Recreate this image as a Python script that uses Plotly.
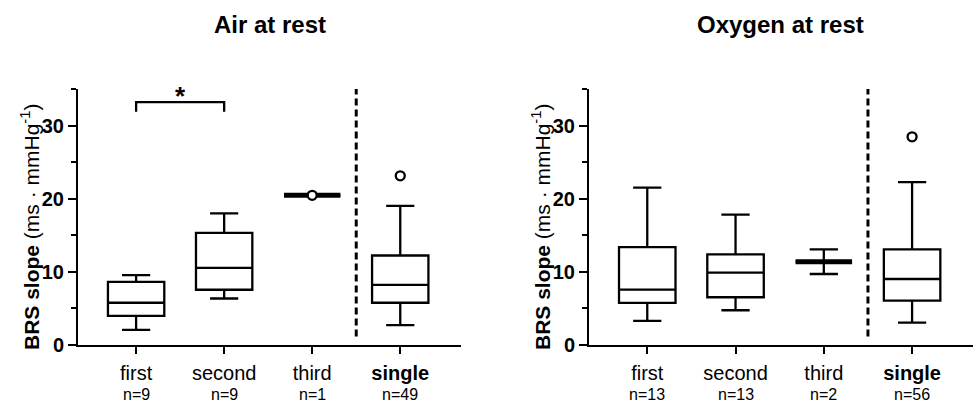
import plotly.graph_objects as go

# ---------------- data ----------------
categories = ["first", "second", "third", "single"]
cat_pos = [1, 2, 3, 4]

air_n = [9, 9, 1, 49]
air_lowerfence = [2.0, 6.3, 20.44, 2.65]
air_q1 = [3.93, 7.5, 20.44, 5.72]
air_median = [5.72, 10.5, 20.44, 8.16]
air_q3 = [8.57, 15.3, 20.44, 12.19]
air_upperfence = [9.49, 17.96, 20.44, 19.0]
air_points_x = ["third", "single"]
air_points_y = [20.44, 23.1]

oxy_n = [13, 13, 2, 56]
oxy_lowerfence = [3.23, 4.69, 9.66, 3.0]
oxy_q1 = [5.69, 6.47, 11.35, 6.02]
oxy_median = [7.52, 9.85, 11.35, 8.97]
oxy_q3 = [13.35, 12.35, 11.35, 13.04]
oxy_upperfence = [21.5, 17.8, 13.04, 22.24]
oxy_points_x = ["single"]
oxy_points_y = [28.45]

sig_pair = ["first", "second"]
sig_level = 33.2
sig_drop = 1.3
sig_label = "*"

titles = ["Air at rest", "Oxygen at rest"]
y_title = "<b>BRS slope</b> (ms · mmHg<sup>-1</sup>)"

# ---------------- styling ----------------
FONT = "Liberation Sans, Arial, sans-serif"
BOX_W = 0.64
LW = 2.3
pos = dict(zip(categories, cat_pos))

fig = go.Figure()

panels = [
    dict(xa="x", ya="y", lf=air_lowerfence, q1=air_q1, med=air_median, q3=air_q3,
         uf=air_upperfence, px=air_points_x, py=air_points_y, n=air_n),
    dict(xa="x2", ya="y2", lf=oxy_lowerfence, q1=oxy_q1, med=oxy_median, q3=oxy_q3,
         uf=oxy_upperfence, px=oxy_points_x, py=oxy_points_y, n=oxy_n),
]

for p in panels:
    for i, c in enumerate(categories):
        collapsed = p["q1"][i] == p["q3"][i]
        fig.add_trace(go.Box(
            x=[cat_pos[i]], q1=[p["q1"][i]], median=[p["med"][i]], q3=[p["q3"][i]],
            lowerfence=[p["lf"][i]], upperfence=[p["uf"][i]],
            width=BOX_W, whiskerwidth=0.5, boxpoints=False,
            fillcolor="white", line=dict(color="black", width=LW),
            xaxis=p["xa"], yaxis=p["ya"], showlegend=False, hoverinfo="skip"))
        if collapsed:
            # thick line for collapsed box (Prism style)
            fig.add_trace(go.Box(
                x=[cat_pos[i]], q1=[p["med"][i]], median=[p["med"][i]], q3=[p["med"][i]],
                lowerfence=[p["med"][i]], upperfence=[p["med"][i]],
                width=BOX_W, whiskerwidth=0, boxpoints=False,
                fillcolor="white", line=dict(color="black", width=5),
                xaxis=p["xa"], yaxis=p["ya"], showlegend=False, hoverinfo="skip"))
    fig.add_trace(go.Scatter(
        x=[pos[c] for c in p["px"]], y=p["py"], mode="markers",
        marker=dict(symbol="circle", size=9, color="white",
                    line=dict(color="black", width=2.3)),
        xaxis=p["xa"], yaxis=p["ya"], showlegend=False, hoverinfo="skip"))

# ---------------- axes ----------------
y_dom = [1 - 344.5 / 404, 1 - 89 / 404]
x_doms = [[78 / 973, 461 / 973], [589 / 973, 1.0]]

def yaxis_cfg(anchor):
    return dict(domain=y_dom, anchor=anchor, range=[0, 35], showgrid=False, zeroline=False,
                automargin=False,
                showline=True, linecolor="black", linewidth=2,
                ticks="outside", tickvals=[0, 10, 20, 30], ticklen=8, tickwidth=2,
                tickcolor="black",
                tickfont=dict(family=FONT, size=20, color="black", weight="bold"),
                minor=dict(tickvals=[5, 15, 25, 35], ticks="outside", ticklen=5,
                           tickwidth=2, tickcolor="black"))

def xaxis_cfg(dom, anchor):
    return dict(domain=dom, anchor=anchor, range=[0.34, 4.69], showgrid=False,
                zeroline=False, showline=True, linecolor="black", linewidth=2,
                automargin=False,
                ticks="outside", ticklen=7, tickwidth=2, tickcolor="black",
                tickvals=cat_pos, ticklabelstandoff=2,
                ticktext=[c if c != "single" else "<b>single</b>" for c in categories],
                tickfont=dict(family=FONT, size=20, color="black"))

fig.update_layout(
    width=973, height=404, margin=dict(l=0, r=0, t=0, b=0, autoexpand=False),
    paper_bgcolor="white", plot_bgcolor="white",
    xaxis=xaxis_cfg(x_doms[0], "y"), yaxis=yaxis_cfg("x"),
    xaxis2=xaxis_cfg(x_doms[1], "y2"), yaxis2=yaxis_cfg("x2"),
    font=dict(family=FONT, color="black"),
    boxmode="overlay",
)

annotations = []
shapes = []
for k, (dom, p) in enumerate(zip(x_doms, panels)):
    xa = "x" if k == 0 else "x2"
    ya = "y" if k == 0 else "y2"
    annotations.append(dict(text="<b>%s</b>" % titles[k], xref="paper", yref="paper",
                            x=(dom[0] + dom[1]) / 2, y=1 - 24 / 404, showarrow=False,
                            xanchor="center", yanchor="middle",
                            font=dict(family=FONT, size=24, color="black")))
    annotations.append(dict(text=y_title, xref="paper", yref="paper", textangle=-90,
                            x=dom[0] - 48 / 973, y=1 - 227 / 404, showarrow=False,
                            xanchor="center", yanchor="middle",
                            font=dict(family=FONT, size=21, color="black")))
    for i, c in enumerate(categories):
        annotations.append(dict(text="n=%d" % p["n"][i], xref=xa, yref="paper",
                                x=cat_pos[i], y=1 - 394 / 404, showarrow=False,
                                xanchor="center", yanchor="middle",
                                font=dict(family=FONT, size=16, color="black")))
    shapes.append(dict(type="line", xref=xa, yref=ya, x0=3.5, x1=3.5, y0=1.1, y1=35,
                       line=dict(color="black", width=3, dash="7px,4px")))

# significance bracket
xa0, xa1 = pos[sig_pair[0]], pos[sig_pair[1]]
shapes.append(dict(type="path", xref="x", yref="y",
                   path="M %g %g L %g %g L %g %g L %g %g" % (
                       xa0, sig_level - sig_drop, xa0, sig_level, xa1, sig_level,
                       xa1, sig_level - sig_drop),
                   line=dict(color="black", width=2.3)))
annotations.append(dict(text="<b>%s</b>" % sig_label, xref="x", yref="y",
                        x=(xa0 + xa1) / 2, y=sig_level, showarrow=False,
                        xanchor="center", yanchor="bottom", yshift=-11,
                        font=dict(family=FONT, size=26, color="black")))

fig.update_layout(annotations=annotations, shapes=shapes)
fig.write_html("out.html", config={"displayModeBar": False},
               post_script="document.body.style.margin='0';"
                           "document.body.style.overflow='hidden';")
